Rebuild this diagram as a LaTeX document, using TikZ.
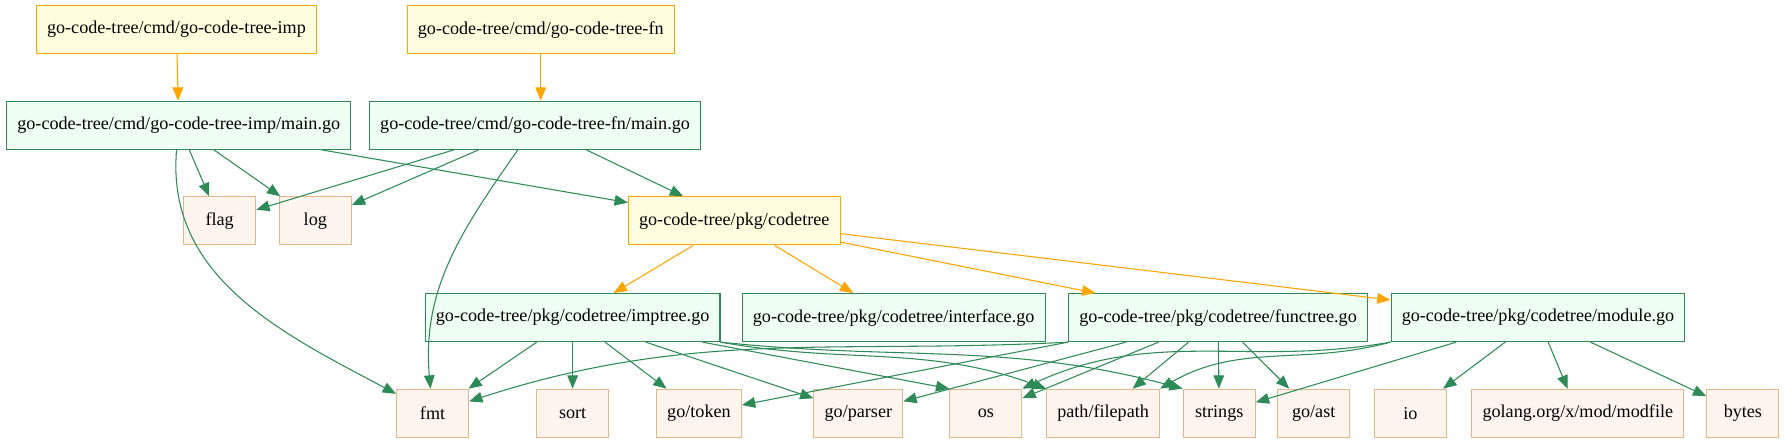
\documentclass[tikz,border=0pt]{standalone}
\usepackage{fontspec}
\setmainfont{Liberation Serif}
\usetikzlibrary{arrows.meta}

\definecolor{seagreen}{HTML}{2E8B57}
\definecolor{gvorange}{HTML}{FFA500}
\definecolor{lightyellow}{HTML}{FFFFE0}
\definecolor{honeydew}{HTML}{F0FFF4}
\definecolor{seashell}{HTML}{FFF5EE}
\definecolor{burlywood}{HTML}{DEB887}

\tikzset{
  box/.style={draw, rectangle, line width=0.8pt, minimum height=36pt, minimum width=54pt, inner xsep=8pt, font=\fontsize{13.6}{16}\selectfont},
  cmdbox/.style={box, draw=gvorange, fill=lightyellow},
  srcbox/.style={box, draw=seagreen, fill=honeydew},
  libbox/.style={box, draw=burlywood, fill=seashell},
  imp/.style={seagreen, line width=0.8pt, -{Triangle[length=10pt,width=8pt]}},
  own/.style={gvorange, line width=0.8pt, -{Triangle[length=10pt,width=8pt]}},
}

\begin{document}
\begin{tikzpicture}[x=0.8536pt, y=0.8536pt]
        \useasboundingbox (0,0) rectangle (1568,-389);

        % commands
        \node[cmdbox] (cmdimp) at (155,-26) {go-code-tree/cmd/go-code-tree-imp};
        \node[cmdbox] (cmdfn) at (475,-26) {go-code-tree/cmd/go-code-tree-fn};
        \node[srcbox] (impmain) at (157,-110) {go-code-tree/cmd/go-code-tree-imp/main.go};
        \node[srcbox] (fnmain) at (470,-110) {go-code-tree/cmd/go-code-tree-fn/main.go};

        % package
        \node[libbox] (flag) at (193,-194) {flag};
        \node[libbox] (log) at (277,-194) {log};
        \node[cmdbox] (codetree) at (645,-194) {go-code-tree/pkg/codetree};
        \node[srcbox] (imptree) at (503,-279) {go-code-tree/pkg/codetree/imptree.go};
        \node[srcbox] (interface) at (785,-279) {go-code-tree/pkg/codetree/interface.go};
        \node[srcbox] (functree) at (1070,-279) {go-code-tree/pkg/codetree/functree.go};
        \node[srcbox] (module) at (1351,-279) {go-code-tree/pkg/codetree/module.go};

        % imports
        \node[libbox] (fmt) at (380,-363) {fmt};
        \node[libbox] (sort) at (503,-363) {sort};
        \node[libbox] (gotoken) at (614,-363) {go/token};
        \node[libbox] (goparser) at (754,-363) {go/parser};
        \node[libbox] (os) at (866,-363) {os};
        \node[libbox] (filepath) at (969,-363) {path/filepath};
        \node[libbox] (strings) at (1071,-363) {strings};
        \node[libbox] (goast) at (1154,-363) {go/ast};
        \node[libbox] (io) at (1239,-363) {io};
        \node[libbox] (modfile) at (1386,-363) {golang.org/x/mod/modfile};
        \node[libbox] (bytes) at (1531,-363) {bytes};

        % orange edges
        \draw[own] (cmdimp) -- (impmain);
        \draw[own] (cmdfn.south) -- (cmdfn.south |- fnmain.north);
        \draw[own] (codetree) -- (imptree);
        \draw[own] (codetree) -- (interface);
        \draw[own] (codetree) -- (functree);
        \draw[own] (codetree) -- (module);

        % main.go
        \draw[imp] (impmain) -- (flag);
        \draw[imp] (impmain) -- (log);
        \draw[imp] (impmain) -- (codetree);
        \draw[imp] (impmain) to[out=-95, in=152] (fmt);
        \draw[imp] (fnmain) -- (flag);
        \draw[imp] (fnmain) -- (log);
        \draw[imp] (fnmain) -- (codetree);
        \draw[imp] (fnmain) to[out=-125, in=95] (fmt);

        % imptree.go
        \draw[imp] (imptree) -- (fmt);
        \draw[imp] (imptree) -- (sort);
        \draw[imp] (imptree) -- (gotoken);
        \draw[imp] (imptree) -- (goparser);
        \draw[imp] (imptree) -- (os.north west);
        \draw[imp] (imptree.south east) to[out=-10, in=160] (filepath.north west);
        \draw[imp] (imptree.south east) to[out=-6, in=165] (strings.north west);

        % functree.go
        \draw[imp] (functree.south west) to[out=183, in=18] (fmt);
        \draw[imp] (functree.south west) -- (gotoken);
        \draw[imp] (functree) -- (goparser);
        \draw[imp] (functree) -- (os);
        \draw[imp] (functree) -- (filepath);
        \draw[imp] (functree) -- (strings);
        \draw[imp] (functree) -- (goast);

        % module.go
        \draw[imp] (module.south west) to[out=190, in=25] (os.north east);
        \draw[imp] (module.south west) to[out=195, in=30] (filepath.north east);
        \draw[imp] (module) -- (strings);
        \draw[imp] (module) -- (io);
        \draw[imp] (module) -- (modfile);
        \draw[imp] (module) -- (bytes);
    \end{tikzpicture}
\end{document}
